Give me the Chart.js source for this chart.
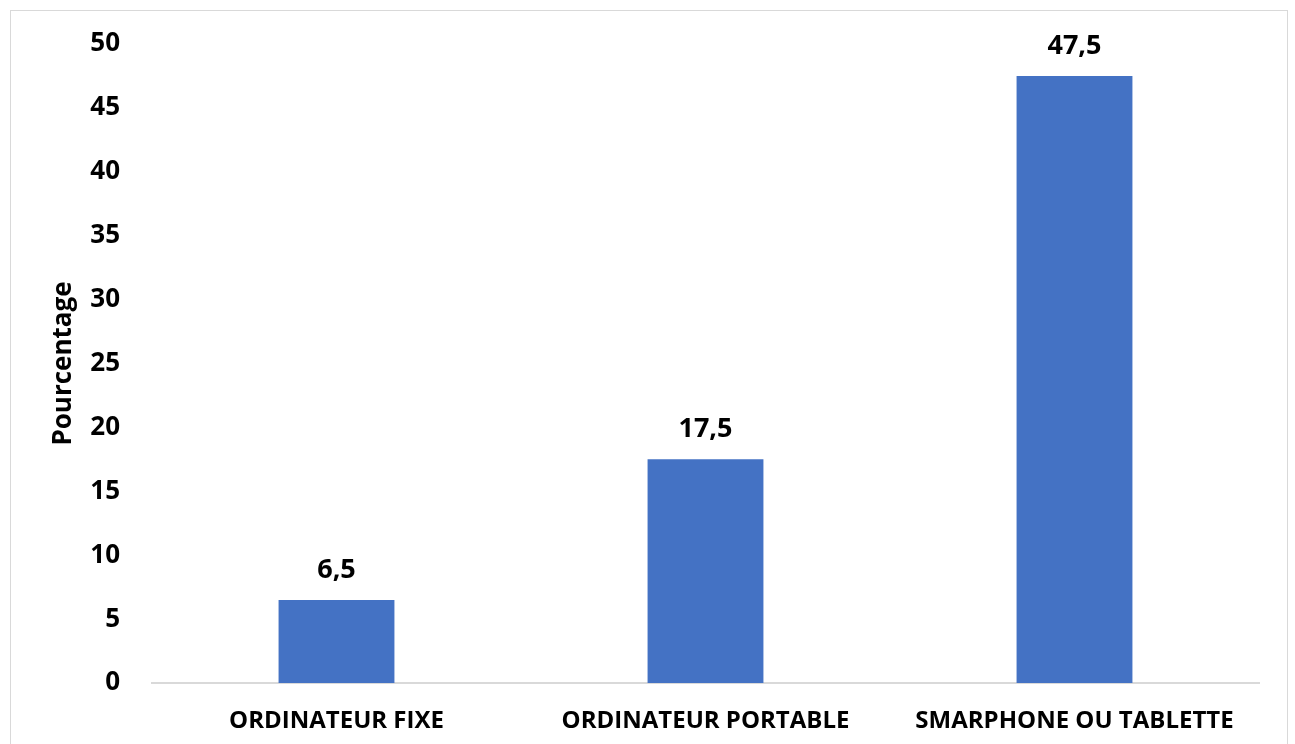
<!DOCTYPE html>
<html>
<head>
<meta charset="utf-8">
<script src="https://cdn.jsdelivr.net/npm/chart.js@4.4.1/dist/chart.umd.min.js"></script>
<style>
  html, body { margin: 0; padding: 0; background: #fff; }
  #wrap { position: relative; width: 1295px; height: 744px; overflow: hidden; }
  #frame {
    position: absolute; left: 10px; top: 10px; width: 1278px; height: 800px;
    border: 1.5px solid #d9d9d9; box-sizing: border-box;
  }
  canvas { position: absolute; left: 0; top: 0; }
</style>
</head>
<body>
<div id="wrap">
  <div id="frame"></div>
  <canvas id="chart" width="1295" height="744"></canvas>
</div>
<script>
// Device used to go online, share in percent
const categories = ["ORDINATEUR FIXE", "ORDINATEUR PORTABLE", "SMARPHONE OU TABLETTE"];
const values = [6.5, 17.5, 47.5];
const yTicks = [0, 5, 10, 15, 20, 25, 30, 35, 40, 45, 50];

const FONT = "'Open Sans', 'Liberation Sans', sans-serif";
const barColor = "#4472C4";

// Writes each value above its bar, French decimal comma
const valueLabels = {
  id: "valueLabels",
  afterDatasetsDraw(chart) {
    const ctx = chart.ctx;
    const meta = chart.getDatasetMeta(0);
    ctx.save();
    ctx.font = "bold 27px " + FONT;
    ctx.fillStyle = "#000";
    ctx.textAlign = "center";
    ctx.textBaseline = "alphabetic";
    meta.data.forEach((bar, i) => {
      const txt = String(values[i]).replace(".", ",");
      ctx.fillText(txt, bar.x, bar.y - 22);
    });
    ctx.restore();
  },
};

const ctx = document.getElementById("chart").getContext("2d");
new Chart(ctx, {
  type: "bar",
  data: {
    labels: categories,
    datasets: [{
      data: values,
      backgroundColor: barColor,
      borderWidth: 0,
      barPercentage: 0.314,
      categoryPercentage: 1,
    }],
  },
  options: {
    responsive: false,
    animation: false,
    layout: { padding: { left: 0, right: 36, top: 44, bottom: 0 } },
    plugins: {
      legend: { display: false },
      tooltip: { enabled: false },
    },
    scales: {
      x: {
        grid: { display: false },
        border: { display: true, color: "#d9d9d9", width: 2 },
        ticks: {
          color: "#000",
          padding: 16,
          maxRotation: 0,
          font: { family: FONT, size: 24, weight: "bold" },
        },
        afterFit: (s) => { s.height = 61; },
      },
      y: {
        min: 0,
        max: 50,
        afterBuildTicks: (s) => { s.ticks = yTicks.map((v) => ({ value: v })); },
        grid: { display: false },
        border: { display: false },
        ticks: {
          color: "#000",
          padding: 24,
          font: { family: FONT, size: 26, weight: "bold" },
        },
        title: {
          display: true,
          text: "Pourcentage",
          color: "#000",
          padding: { top: 48, bottom: 0 },
          font: { family: FONT, size: 26, weight: "bold" },
        },
        afterFit: (s) => { s.width = 152; },
      },
    },
  },
  plugins: [valueLabels],
});
</script>
</body>
</html>
